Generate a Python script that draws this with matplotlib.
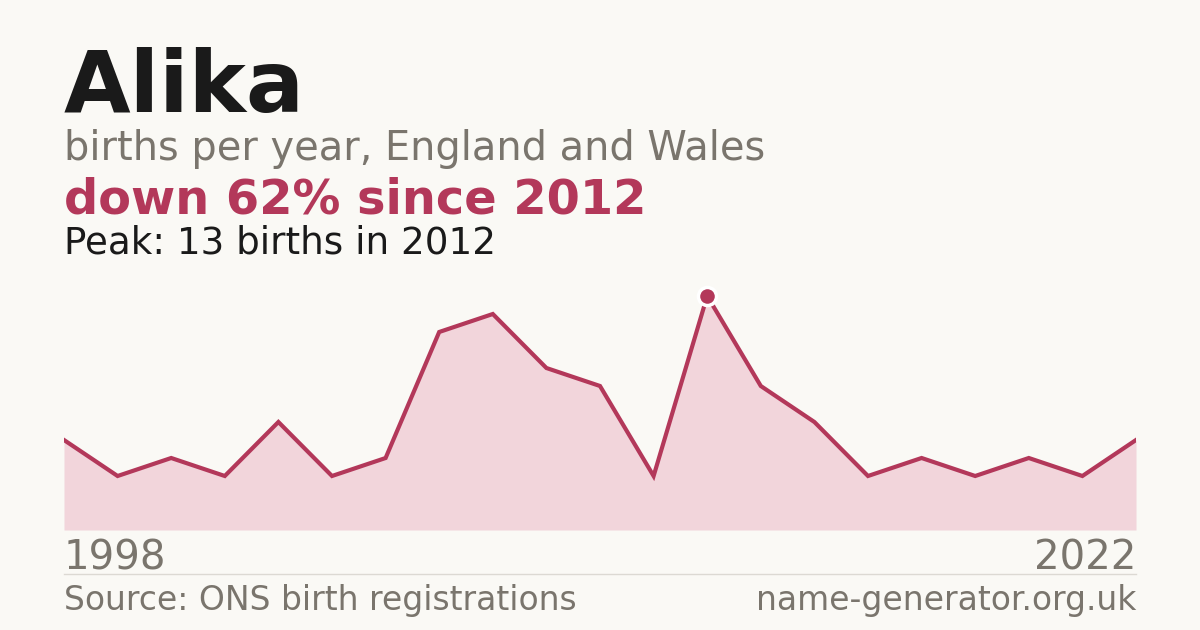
import matplotlib
matplotlib.use('Agg')
import matplotlib.pyplot as plt

plt.rcParams['font.family'] = ['DejaVu Sans']

# data (years with suppressed counts are not shown)
years = [1998, 1999, 2000, 2001, 2002, 2003, 2004, 2005, 2006, 2007, 2008,
         2011, 2012, 2013, 2014, 2015, 2017, 2018, 2019, 2021, 2022]
births = [5, 3, 4, 3, 6, 3, 4, 11, 12, 9, 8,
          3, 13, 8, 6, 3, 4, 3, 4, 3, 5]
peak_year = 2012
first_label = '1998'
last_label = '2022'

BG = '#faf9f5'
INK = '#1a1a1a'
GREY = '#7a756d'
RED = '#b3385a'
FILL = '#f2d5db'

W, H = 1200, 630
fig = plt.figure(figsize=(12, 6.3), dpi=100, facecolor=BG)

def px(x, y):
    # pixel position (from top-left) -> figure fraction
    return x / W, 1 - y / H

# chart area: 64..1136 px wide, baseline at 530 px, top at 270 px
ax = fig.add_axes([64 / W, 1 - 530 / H, (1136 - 64) / W, 260 / H])
ax.set_facecolor(BG)
xs = list(range(len(births)))
ax.fill_between(xs, births, 0, color=FILL, lw=0)
ax.plot(xs, births, color=RED, lw=3.0, solid_joinstyle='miter')
pk = years.index(peak_year)
ax.plot(xs[pk], births[pk], 'o', ms=13, color=RED, mec='white', mew=2.5,
        zorder=5, clip_on=False)
ax.set_xlim(0, len(births) - 1)
ax.set_ylim(0, max(births) * 260 / 234)
ax.axis('off')

# headings
fig.text(*px(64, 112), 'Alika', fontsize=62, fontweight='bold', color=INK, va='baseline')
fig.text(*px(64, 160), 'births per year, England and Wales', fontsize=28.7, color=GREY, va='baseline')
drop = round((1 - births[-1] / births[pk]) * 100)
fig.text(*px(64, 214), f'down {drop}% since {peak_year}', fontsize=34.5, fontweight='bold',
         color=RED, va='baseline')
fig.text(*px(64, 254), f'Peak: {births[pk]} births in {peak_year}', fontsize=26.8,
         color=INK, va='baseline')

# x labels
fig.text(*px(64, 570), first_label, fontsize=29, color=GREY, va='baseline')
fig.text(*px(1136, 570), last_label, fontsize=29, color=GREY, va='baseline', ha='right')

# divider
fig.add_artist(plt.Line2D([64 / W, 1136 / W], [1 - 574 / H] * 2, color='#dcd9d3', lw=1))

# footer
fig.text(*px(64, 610), 'Source: ONS birth registrations', fontsize=23.8, color=GREY, va='baseline')
fig.text(*px(1136, 610), 'name-generator.org.uk', fontsize=23.8, color=GREY, va='baseline', ha='right')

fig.savefig('out.png', dpi=100, facecolor=BG)
